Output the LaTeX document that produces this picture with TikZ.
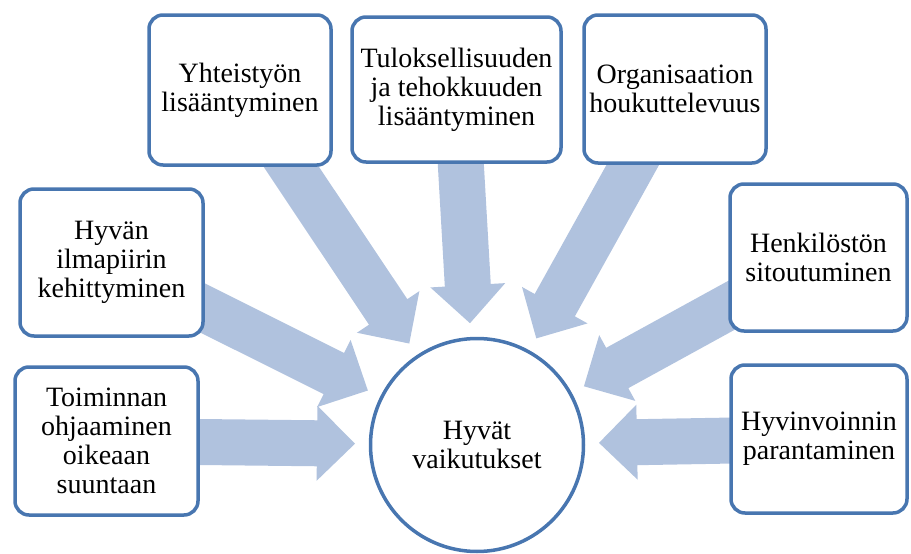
\documentclass[tikz,border=0pt]{standalone}
\usepackage{fontspec}
\setmainfont{Liberation Serif}
\usetikzlibrary{calc}

\definecolor{boxline}{RGB}{72,118,176}
\definecolor{arrowfill}{RGB}{176,194,222}

\pgfdeclarelayer{back}
\pgfsetlayers{back,main}

\tikzset{
  item/.style={draw=boxline, line width=3.5pt, fill=white, rounded corners=14pt,
    align=center, inner sep=0pt, font=\fontsize{28}{29}\selectfont},
  hubnode/.style={circle, draw=boxline, line width=3.5pt, fill=white,
    minimum size=213pt, align=center, inner sep=0pt, font=\fontsize{28}{29}\selectfont},
  fatarrow/.style={fill=arrowfill, draw=none}
}

% Block arrow from the centre of a box towards the hub; the tip stops short of the circle.
\newcommand\feeder[1]{%
  \coordinate (#1-tip) at ($(hub.center)!122pt!(#1.center)$);
  \coordinate (#1-base) at ($(#1-tip)!38pt!(#1.center)$);
  \fill[fatarrow]
    ($(#1.center)!23pt!90:(#1-tip)$) --
    ($(#1-base)!23pt!-90:(#1.center)$) --
    ($(#1-base)!37.5pt!-90:(#1.center)$) --
    (#1-tip) --
    ($(#1-base)!37.5pt!90:(#1.center)$) --
    ($(#1-base)!23pt!90:(#1.center)$) --
    ($(#1.center)!23pt!-90:(#1-tip)$) -- cycle;}

\begin{document}
\begin{tikzpicture}[x=1pt, y=-1pt]
  \useasboundingbox (0,0) rectangle (911,554);

  % hub
  \node[hubnode] (hub) at (477,445) {Hyvät\\vaikutukset};

  % surrounding boxes
  \node[item, minimum width=182pt, minimum height=150pt] (yht) at (240,90)
    {Yhteistyön\\lisääntyminen};
  \node[item, minimum width=209pt, minimum height=145pt] (tul) at (456.5,89.5)
    {Tuloksellisuuden\\ja tehokkuuden\\lisääntyminen};
  \node[item, minimum width=182pt, minimum height=148pt] (org) at (675,89)
    {Organisaation\\houkuttelevuus};
  \node[item, minimum width=183pt, minimum height=147pt] (ilm) at (111.5,262.5)
    {Hyvän\\ilmapiirin\\kehittyminen};
  \node[item, minimum width=177pt, minimum height=147pt] (hen) at (818.5,257.5)
    {Henkilöstön\\sitoutuminen};
  \node[item, minimum width=183pt, minimum height=148pt] (toi) at (106.5,441)
    {Toiminnan\\ohjaaminen\\oikeaan\\suuntaan};
  \node[item, minimum width=176pt, minimum height=148pt] (hyv) at (819,439)
    {Hyvinvoinnin\\parantaminen};

  % arrows behind the boxes
  \begin{pgfonlayer}{back}
    \feeder{yht}
    \feeder{tul}
    \feeder{org}
    \feeder{ilm}
    \feeder{hen}
    \feeder{toi}
    \feeder{hyv}
  \end{pgfonlayer}
\end{tikzpicture}
\end{document}
